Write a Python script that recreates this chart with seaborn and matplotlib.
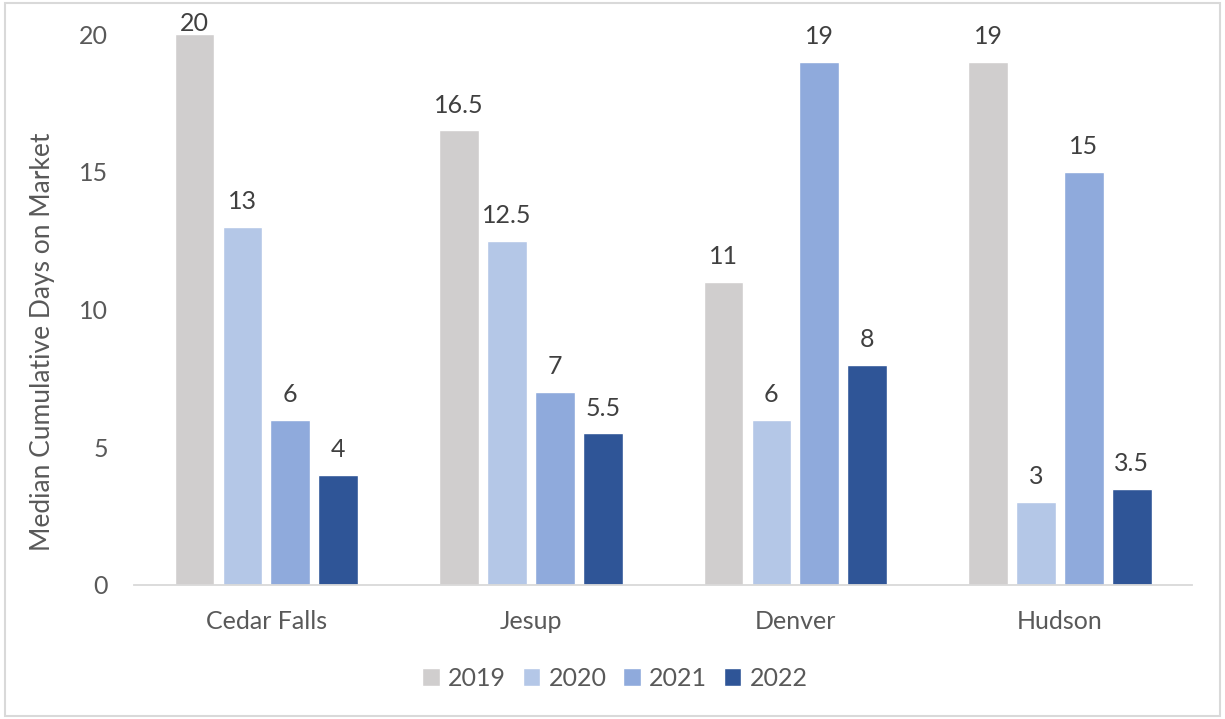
import matplotlib
matplotlib.use("Agg")
import matplotlib.pyplot as plt
import seaborn as sns
import pandas as pd
from matplotlib.patches import Rectangle

cities = ["Cedar Falls", "Jesup", "Denver", "Hudson"]
years = ["2019", "2020", "2021", "2022"]
v2019 = [20, 16.5, 11, 19]
v2020 = [13, 12.5, 6, 3]
v2021 = [6, 7, 19, 15]
v2022 = [4, 5.5, 8, 3.5]
colors = ["#D0CECE", "#B4C7E7", "#8FAADC", "#2F5597"]
y_ticks = [0, 5, 10, 15, 20]

rows = []
for yr, vals in zip(years, [v2019, v2020, v2021, v2022]):
    for c, v in zip(cities, vals):
        rows.append({"city": c, "year": yr, "days": v})
df = pd.DataFrame(rows)

sns.set_theme(style="white")
plt.rcParams["font.family"] = ["Lato", "DejaVu Sans"]

fig = plt.figure(figsize=(12.25, 7.19), dpi=100)
ax = fig.add_axes([0.1095, 0.1864, 0.8637, 0.7663])

sns.barplot(data=df, x="city", y="days", hue="year", order=cities, hue_order=years,
            palette=colors, width=0.725, gap=0.17, ax=ax, errorbar=None, saturation=1)

ymax = y_ticks[-1]
for cont in ax.containers:
    labels = [f"{v:g}" for v in cont.datavalues]
    anns = ax.bar_label(cont, labels=labels, padding=10, fontsize=18, color="#404040")
    for ann, v in zip(anns, cont.datavalues):
        if v >= ymax:
            ann.xyann = (0, -1)

ax.set_ylim(0, ymax)
ax.set_xlim(-0.5, 3.5)
ax.set_yticks(y_ticks)
ax.set_yticklabels([str(t) for t in y_ticks])
ax.tick_params(axis="y", length=0, pad=19, labelsize=18, labelcolor="#595959")
ax.tick_params(axis="x", length=0, pad=18, labelsize=18, labelcolor="#595959")
ax.set_xlabel("")
ax.set_ylabel("Median Cumulative Days on Market", fontsize=19, color="#595959")
ax.yaxis.set_label_coords(-0.075, 0.441)
for s in ["left", "right", "top"]:
    ax.spines[s].set_visible(False)
ax.spines["bottom"].set_color("#D9D9D9")
ax.spines["bottom"].set_linewidth(1.3)
ax.grid(False)

handles, labels = ax.get_legend_handles_labels()
ax.get_legend().remove()
fig.legend(handles, labels, loc="center", bbox_to_anchor=(0.502, 0.057),
           bbox_transform=fig.transFigure, ncol=4, frameon=False,
           fontsize=18, labelcolor="#595959", handlelength=0.7, handleheight=0.7,
           handletextpad=0.35, columnspacing=0.65)

fig.patches.append(Rectangle((0.004, 0.004), 0.992, 0.992, transform=fig.transFigure,
                             fill=False, edgecolor="#D9D9D9", linewidth=1.5))

fig.savefig("out.png", dpi=100)
